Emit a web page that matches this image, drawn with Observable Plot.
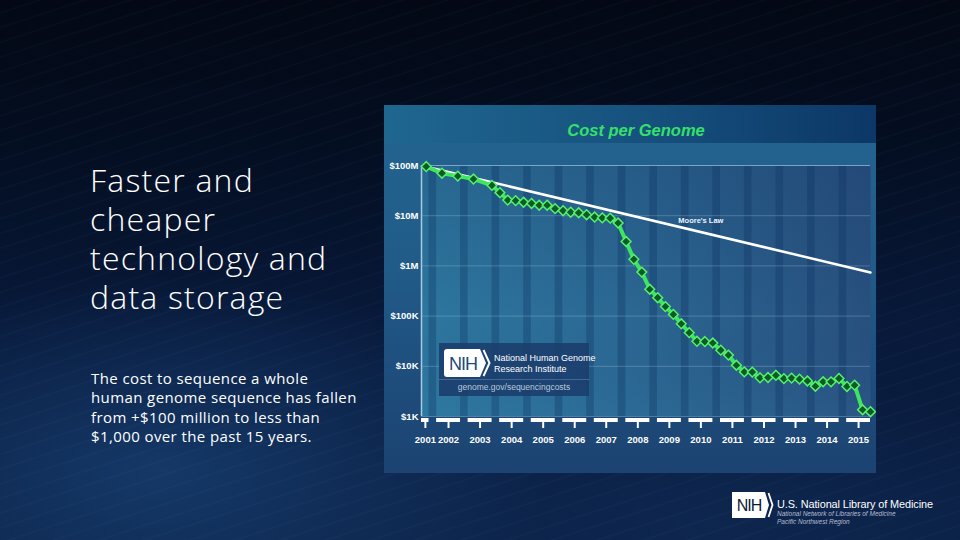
<!DOCTYPE html>
<html>
<head>
<meta charset="utf-8">
<script src="https://cdn.jsdelivr.net/npm/d3@7"></script>
<script src="https://cdn.jsdelivr.net/npm/@observablehq/plot@0.6"></script>
<style>
  html, body { margin: 0; padding: 0; background: #040b1c; }
  #slide {
    position: relative; width: 960px; height: 540px; overflow: hidden;
    background:
      repeating-linear-gradient(162deg, rgba(120,170,230,0) 0px, rgba(120,170,230,0) 11px, rgba(120,170,230,0.035) 12px, rgba(120,170,230,0) 14px),
      radial-gradient(ellipse 520px 260px at 160px 470px, rgba(34,88,150,0.45), rgba(34,88,150,0) 75%),
      radial-gradient(ellipse 500px 200px at 700px 520px, rgba(20,50,100,0.35), rgba(20,50,100,0) 75%),
      linear-gradient(180deg, #030814 0%, #040f23 30%, #08193a 60%, #0b2145 100%);
    font-family: "Open Sans", "DejaVu Sans", sans-serif;
  }
  #headline {
    position: absolute; left: 90px; top: 160px;
    color: #ffffff; font-size: 32px; line-height: 39px; font-weight: 300;
    letter-spacing: 1.2px; white-space: nowrap;
  }
  #blurb {
    position: absolute; left: 91px; top: 369px;
    color: #ffffff; font-size: 15px; line-height: 19.3px;
    letter-spacing: 0.4px; white-space: nowrap;
  }
  #panel {
    position: absolute; left: 384px; top: 105px; width: 492px; height: 368px;
    background: linear-gradient(180deg, #236590 0%, #215b88 45%, #1e4d7c 75%, #1c4371 100%);
    overflow: hidden;
  }
  #header {
    position: absolute; left: 0; top: 0; width: 492px; height: 38px;
    background: linear-gradient(90deg, #1f6790 0%, #17527f 50%, #0c3766 100%);
  }
  #ctitle {
    position: absolute; left: 6px; top: 15px; width: 492px; text-align: center;
    font-family: "Liberation Sans", Arial, sans-serif; font-weight: bold; font-style: italic;
    font-size: 16.5px; line-height: 20px; color: #34e06a;
  }
  #chart { position: absolute; left: 0; top: 38px; }
  #nihbox {
    position: absolute; left: 55px; top: 238px; width: 150px; height: 53px;
    background: rgba(27,64,110,0.93);
    font-family: "Liberation Sans", Arial, sans-serif; color: #ffffff;
  }
  #nihbox .l1 { position: absolute; left: 55px; top: 10px; font-size: 9px; line-height: 11px; white-space: nowrap; }
  #nihbox .url { position: absolute; left: 0; width: 150px; top: 39px; text-align: center; font-size: 8.5px; color: #b9c9dc; white-space: nowrap; }
  #nihbox .div { position: absolute; left: 0; width: 150px; top: 36px; height: 1px; background: rgba(140,175,210,0.35); }
  #nlm { position: absolute; left: 732px; top: 491px; width: 228px; height: 40px; font-family: "Liberation Sans", Arial, sans-serif; color: #fff; }
  #nlm .t1 { position: absolute; left: 45px; top: 7px; font-size: 10.9px; line-height: 12px; white-space: nowrap; letter-spacing: -0.1px; }
  #nlm .t2 { position: absolute; left: 45px; top: 19px; font-size: 6.5px; line-height: 8px; font-style: italic; color: #b3bdd0; white-space: nowrap; }
</style>
</head>
<body>
<div id="slide">
  <div id="headline">Faster and<br>cheaper<br>technology and<br>data storage</div>
  <div id="blurb">The cost to sequence a whole<br>human genome sequence has fallen<br>from +$100 million to less than<br>$1,000 over the past 15 years.</div>
  <div id="panel">
    <div id="header"><div id="ctitle">Cost per Genome</div></div>
    <div id="chart"></div>
    <div id="nihbox">
      <svg style="position:absolute;left:5px;top:6px" width="48" height="28" viewBox="0 0 48 28">
        <path d="M3,0 H36 L42,14 L36,28 H3 Q0,28 0,25 V3 Q0,0 3,0 Z" fill="#ffffff"/>
        <path d="M39.5,1 L45.5,14 L39.5,27" fill="none" stroke="#ffffff" stroke-width="2"/>
        <text x="19" y="21" text-anchor="middle" font-family="Liberation Sans, Arial, sans-serif" font-size="18" fill="#1d4a7a" letter-spacing="-1">NIH</text>
      </svg>
      <div class="l1">National Human Genome<br>Research Institute</div>
      <div class="div"></div>
      <div class="url">genome.gov/sequencingcosts</div>
    </div>
  </div>
  <div id="nlm">
    <svg style="position:absolute;left:0;top:1px" width="42" height="26" viewBox="0 0 42 26">
      <path d="M0,0 H33 L37,13 L33,26 H0 Z" fill="#ffffff"/>
      <path d="M36.5,1 L40.5,13 L36.5,25" fill="none" stroke="#ffffff" stroke-width="1.8"/>
      <text x="17" y="19" text-anchor="middle" font-family="Liberation Sans, Arial, sans-serif" font-size="16" fill="#0b1a34" letter-spacing="-1">NIH</text>
    </svg>
    <div class="t1">U.S. National Library of Medicine</div>
    <div class="t2">National Network of Libraries of Medicine<br>Pacific Northwest Region</div>
  </div>
</div>
<script>
// ---- data ----
const genomeDates = [
  "2001-09-30","2002-03-31","2002-09-30","2003-03-31","2003-10-31",
  "2004-01-31","2004-04-30","2004-07-31","2004-10-31",
  "2005-01-31","2005-04-30","2005-07-31","2005-10-31",
  "2006-01-31","2006-04-30","2006-07-31","2006-10-31",
  "2007-01-31","2007-04-30","2007-07-31","2007-10-31",
  "2008-01-31","2008-04-30","2008-07-31","2008-10-31",
  "2009-01-31","2009-04-30","2009-07-31","2009-10-31",
  "2010-01-31","2010-04-30","2010-07-31","2010-10-31",
  "2011-01-31","2011-04-30","2011-07-31","2011-10-31",
  "2012-01-31","2012-04-30","2012-07-31","2012-10-31",
  "2013-01-31","2013-04-30","2013-07-31","2013-10-31",
  "2014-01-31","2014-04-30","2014-07-31","2014-10-31",
  "2015-01-31","2015-04-30","2015-07-31","2015-10-31"
];
const genomeCosts = [
  95263072, 70175437, 61448422, 53751684, 40153733,
  28780376, 20442576, 19934346, 18519312,
  17534970, 16159699, 16180224, 13801124,
  12585659, 11732535, 11455315, 10474556,
  9408739, 9047003, 8927342, 7147571,
  3063820, 1352982, 752080, 342502,
  232735, 154714, 108065, 70333,
  46774, 31512, 31125, 29092,
  20963, 16712, 10497, 7743,
  7666, 5901, 5985, 6618,
  5671, 5826, 5550, 5096,
  4008, 4920, 4905, 5731,
  3970, 4211, 1363, 1245
];
const mooreDates = ["2001-09-30", "2015-10-31"];
const mooreCosts = [95000000, 740000];
const mooreLabel = [{date: "2010-06-15", cost: 8000000, text: "Moore's Law"}];

const yTicks = [1e3, 1e4, 1e5, 1e6, 1e7, 1e8];
const yLabels = ["$1K", "$10K", "$100K", "$1M", "$10M", "$100M"];
const xTickDates = ["2001-09-20","2002-06-15","2003-06-15","2004-06-15","2005-06-15","2006-06-15","2007-06-15",
  "2008-06-15","2009-06-15","2010-06-15","2011-06-15","2012-06-15","2013-06-15","2014-06-15","2015-06-15"];
const xTickLabels = ["2001","2002","2003","2004","2005","2006","2007","2008","2009","2010","2011","2012","2013","2014","2015"];
const stripeYears = [2002,2003,2004,2005,2006,2007,2008,2009,2010,2011,2012,2013,2014,2015];

// ---- build ----
const D = s => new Date(s);
const genome = genomeDates.map((d, i) => ({date: D(d), cost: genomeCosts[i]}));
const moore = mooreDates.map((d, i) => ({date: D(d), cost: mooreCosts[i]}));
const mLabel = mooreLabel.map(d => ({...d, date: D(d.date)}));
const xDomain = [D("2001-08-06"), D("2015-10-31")];
const stripes = stripeYears.map(y => ({start: D(`${y - 1}-11-01`), end: D(`${y}-01-28`)}));
const bars = [];
let prev = xDomain[0];
for (const s of stripes) { bars.push({start: prev, end: s.start}); prev = s.end; }
bars.push({start: prev, end: xDomain[1]});
const xTicks = xTickDates.map(D);
const xLab = new Map(xTicks.map((d, i) => [+d, xTickLabels[i]]));
const yLab = new Map(yTicks.map((v, i) => [v, yLabels[i]]));

const svg = Plot.plot({
  width: 492, height: 330,
  marginLeft: 37, marginRight: 6, marginTop: 22, marginBottom: 57,
  x: {type: "utc", domain: xDomain, label: null},
  y: {type: "log", domain: [1e3, 1e8], label: null},
  style: {background: "transparent", color: "white", fontFamily: "Liberation Sans, Arial, sans-serif", overflow: "visible"},
  marks: [
    Plot.frame({fill: "url(#pg)"}),
    Plot.frame({fill: "url(#pv)"}),
    Plot.rect(stripes, {x1: "start", x2: "end", y1: 1e3, y2: 1e8, fill: "#0c3260", fillOpacity: 0.32}),
    Plot.gridY(yTicks, {stroke: "#b4d4ea", strokeOpacity: 0.28, strokeWidth: 1}),
    Plot.ruleY([1e8], {stroke: "#9cc2dc", strokeOpacity: 0.6}),
    Plot.ruleX([xDomain[0]], {stroke: "#a9cbe3", strokeWidth: 1.5}),
    Plot.rect(bars, {x1: "start", x2: "end", y1: 1e3, y2: 1e3, insetTop: -2, insetBottom: -2, dy: 4, fill: "#ffffff"}),
    Plot.axisY(yTicks, {tickSize: 0, tickPadding: 3, tickFormat: v => yLab.get(v), fontWeight: "bold", fontSize: 9.5, fill: "#ffffff", label: null}),
    Plot.axisX(xTicks, {tickSize: 6, dy: 6, tickPadding: 7.6, stroke: "#ffffff", strokeWidth: 2, tickFormat: d => xLab.get(+d),
      fontWeight: "bold", fontSize: 9.5, fill: "#ffffff", label: null}),
    Plot.line(moore, {x: "date", y: "cost", stroke: "#ffffff", strokeWidth: 2.5}),
    Plot.text(mLabel, {x: "date", y: "cost", text: "text", fill: "#eef4fa", fontSize: 7.5, fontWeight: "bold"}),
    Plot.line(genome, {x: "date", y: "cost", stroke: "#3ee65e", strokeWidth: 4, strokeLinejoin: "round"}),
    Plot.dot(genome, {x: "date", y: "cost", symbol: "diamond2", r: 4.4, fill: "#0e5a26", stroke: "#56f06e", strokeWidth: 1.5})
  ]
});
d3.select(svg).insert("defs", ":first-child").html(`
  <linearGradient id="pg" x1="0" y1="0" x2="1" y2="0">
    <stop offset="0" stop-color="#2d779f"/>
    <stop offset="0.45" stop-color="#2b6893"/>
    <stop offset="1" stop-color="#28507f"/>
  </linearGradient>
  <linearGradient id="pv" x1="0" y1="0" x2="0" y2="1">
    <stop offset="0" stop-color="#14305e" stop-opacity="0.22"/>
    <stop offset="0.6" stop-color="#14305e" stop-opacity="0"/>
    <stop offset="1" stop-color="#3a88b0" stop-opacity="0.12"/>
  </linearGradient>`);
document.getElementById("chart").appendChild(svg);
</script>
</body>
</html>
